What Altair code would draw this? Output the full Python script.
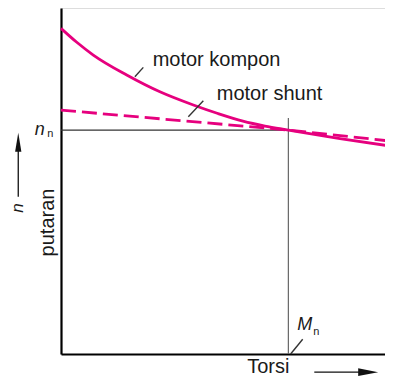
import altair as alt
import pandas as pd

# ---- data (torque and speed in % of rated values M_n / n_n) ----
torsi_kompon = [0, 6.8, 14.2, 28.9, 43.5, 58.2, 69.0, 80.0, 89.7, 100, 122.7, 144.7]
putaran_kompon = [145.4, 139.3, 133.5, 124.6, 117.1, 111.2, 107.4, 104.0, 101.8, 100, 96.2, 92.9]
torsi_shunt = [0, 100, 144.7]
putaran_shunt = [108.9, 100, 95.1]
M_n = 100
n_n = 100
curve_labels = ["motor kompon", "motor shunt"]

# ---- styling ----
X_DOMAIN = [0, 142.5]
Y_DOMAIN = [0, 154.5]
MAGENTA = "#e6007e"
FONT = "Liberation Sans"
INK = "#1a1a1a"

xs = alt.Scale(domain=X_DOMAIN, nice=False, zero=False)
ys = alt.Scale(domain=Y_DOMAIN, nice=False, zero=False)

X = alt.X("torsi:Q", scale=xs, axis=alt.Axis(
    domain=True, domainColor="black", domainWidth=2.2, ticks=False, labels=False,
    grid=False, title="Torsi", titleX=185.7, titleY=18.5, titleAlign="left",
    titleBaseline="alphabetic", titleFont=FONT, titleFontSize=20,
    titleFontWeight="normal", titleColor=INK))
Y = alt.Y("putaran:Q", scale=ys, axis=alt.Axis(
    domain=True, domainColor="black", domainWidth=2.2, ticks=False, labels=False,
    grid=False, title="putaran", titleAngle=270, titleX=-7.7, titleY=214,
    titleAlign="center", titleBaseline="alphabetic", titleFont=FONT,
    titleFontSize=20, titleFontWeight="normal", titleColor=INK))

kompon = pd.DataFrame({"torsi": torsi_kompon, "putaran": putaran_kompon})
shunt = pd.DataFrame({"torsi": torsi_shunt, "putaran": putaran_shunt})

# reference lines at rated point
ref = pd.DataFrame({
    "torsi": [0, M_n], "putaran": [n_n, 0],
    "torsi2": [M_n, M_n], "putaran2": [n_n, 105.4],
    "col": ["#333333", "#666666"],
})
ref_layer = alt.Chart(ref).mark_rule(strokeWidth=1.2).encode(
    x=X, y=Y, x2="torsi2:Q", y2="putaran2:Q",
    color=alt.Color("col:N", scale=None))

kompon_layer = alt.Chart(kompon).mark_line(
    color=MAGENTA, strokeWidth=2.8, interpolate="monotone").encode(x=X, y=Y)
shunt_layer = alt.Chart(shunt).mark_line(
    color=MAGENTA, strokeWidth=2.8, strokeDash=[15, 6]).encode(x=X, y=Y)

# leader lines for labels
leaders = pd.DataFrame({
    "torsi": [32.5, 56.0, 101.0],
    "putaran": [123.8, 105.9, 0.0],
    "torsi2": [36.2, 62.6, 106.3],
    "putaran2": [128.0, 113.1, 6.6],
})
leader_layer = alt.Chart(leaders).mark_rule(strokeWidth=1.4, color="#333333").encode(
    x=X, y=Y, x2="torsi2:Q", y2="putaran2:Q")


def text_layer(rows, size, style="normal", angle=0, align="left"):
    df = pd.DataFrame(rows, columns=["torsi", "putaran", "label"])
    return alt.Chart(df).mark_text(
        font=FONT, fontSize=size, fontStyle=style, angle=angle, align=align,
        baseline="alphabetic", color=INK).encode(x=X, y=Y, text="label:N")


labels_main = text_layer([[40.3, 128.8, curve_labels[0]],
                          [68.5, 113.4, curve_labels[1]]], 20)
labels_ital = text_layer([[-11.6, 98.0, "n"], [103.9, 10.6, "M"]], 18, "italic")
labels_sub = text_layer([[-6.0, 96.9, "n"], [110.9, 8.5, "n"]], 11)
label_n_rot = text_layer([[-16.6, 65.2, "n"]], 17, "italic", angle=270,
                         align="center")

# arrows
shafts = pd.DataFrame({
    "torsi": [-18.8, 111.4], "putaran": [70.2, -8.1],
    "torsi2": [-18.8, 131.5], "putaran2": [93.3, -8.1],
})
shaft_layer = alt.Chart(shafts).mark_rule(strokeWidth=1.3, color="#111111").encode(
    x=X, y=Y, x2="torsi2:Q", y2="putaran2:Q")
head_up = alt.Chart(pd.DataFrame({"torsi": [-18.8], "putaran": [94.6]})).mark_point(
    shape="M0,-1L0.33,1L-0.33,1Z", size=361, filled=True, opacity=1,
    color="#111111", strokeWidth=0).encode(x=X, y=Y)
head_right = alt.Chart(pd.DataFrame({"torsi": [135.1], "putaran": [-8.1]})).mark_point(
    shape="M1,0L-1,-0.38L-1,0.38Z", size=400, filled=True, opacity=1,
    color="#111111", strokeWidth=0).encode(x=X, y=Y)

chart = alt.layer(
    ref_layer, shunt_layer, kompon_layer, leader_layer,
    labels_main, labels_ital, labels_sub, label_n_rot,
    shaft_layer, head_up, head_right,
).properties(
    width=324, height=346, autosize=alt.AutoSizeParams(type="none"),
    padding={"left": 53, "top": 0, "right": 0, "bottom": 22},
).configure_view(stroke=None).configure(background="white")

chart.save("out.html", embed_options={"renderer": "svg", "actions": False})
